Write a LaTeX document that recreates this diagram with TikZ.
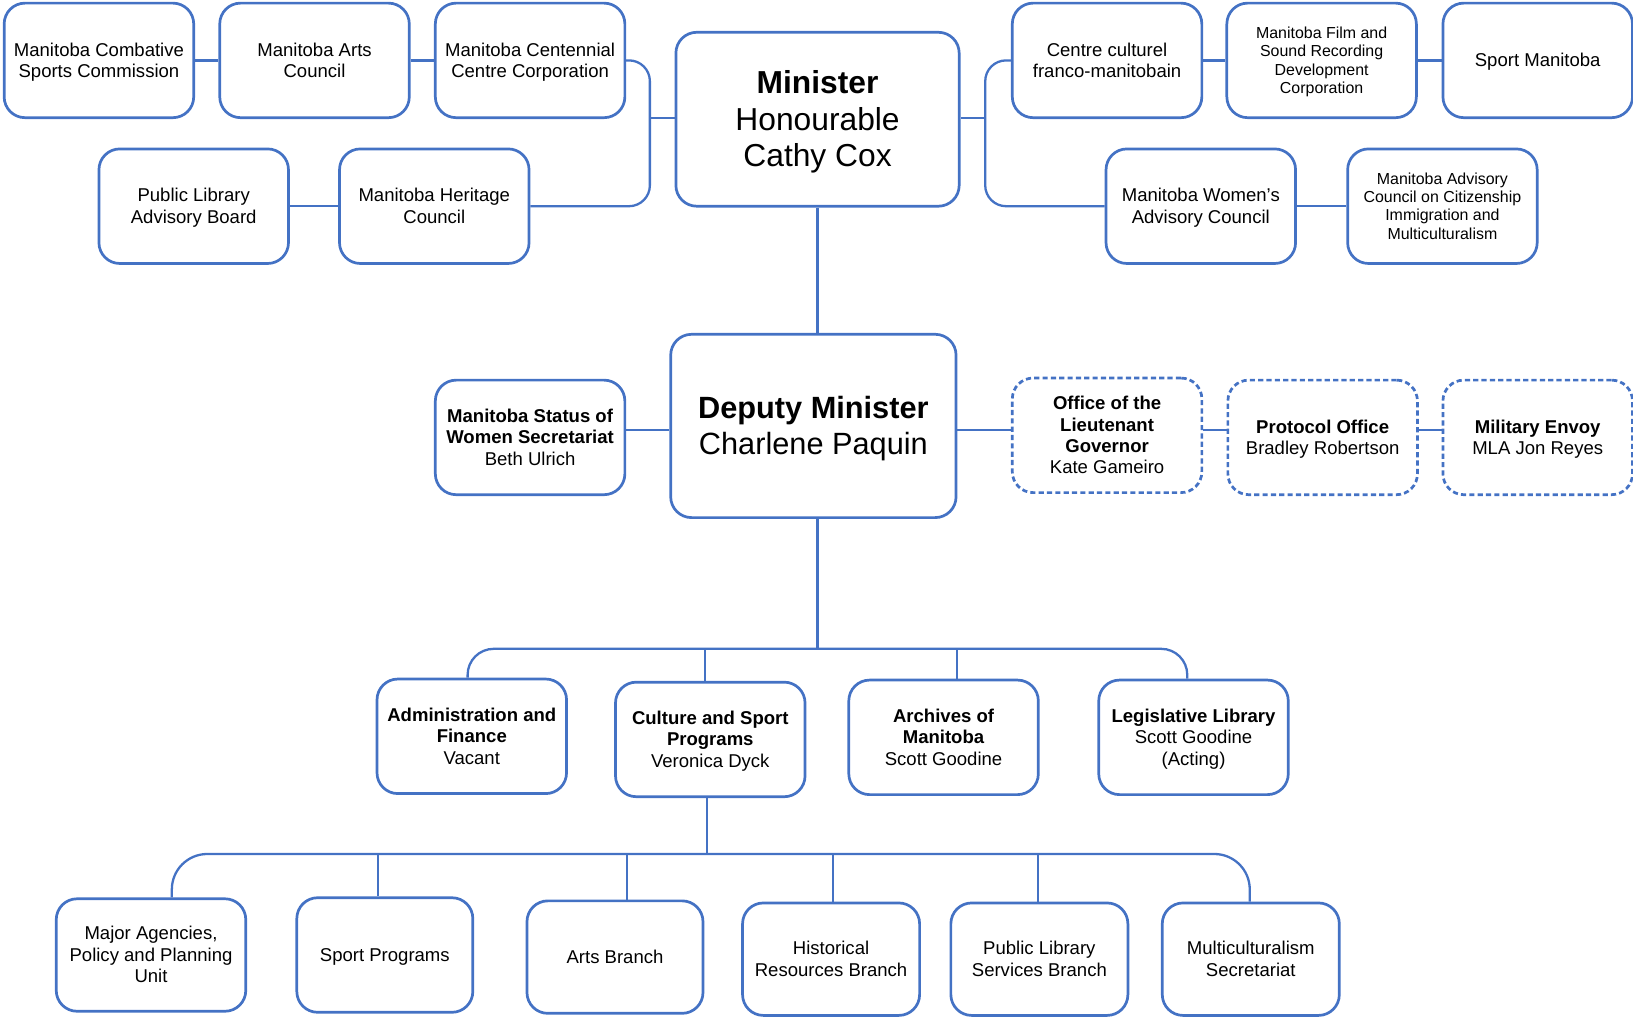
\documentclass[tikz,border=0pt]{standalone}
\usepackage{fontspec}
\setmainfont{Liberation Sans}
\usetikzlibrary{calc}
\definecolor{orgblue}{HTML}{4472C4}
% line-box strut: ascent and descent of the font's line box
\newcommand{\mystrut}{\rule[-0.212em]{0pt}{1.117em}}
\begin{document}
\begin{tikzpicture}[x=1pt,y=-1pt,
  box/.style={draw=orgblue, line width=2.6pt, rounded corners=20pt, align=center,
    inner sep=0pt, minimum width=182pt, minimum height=110pt,
    font=\fontsize{17.8}{20.6}\selectfont},
  dbox/.style={box, dash pattern=on 5pt off 3pt},
  small/.style={font=\fontsize{15.3}{17.7}\selectfont},
  conn/.style={draw=orgblue, line width=2.2pt},
  ]
\useasboundingbox (0,0) rectangle (1568,976);

% top left group
\node[box] (comb) at (95,58) {\mystrut Manitoba Combative\\Sports Commission\mystrut};
\node[box] (arts) at (302,58) {\mystrut Manitoba Arts\\Council\mystrut};
\node[box] (cent) at (509,58) {\mystrut Manitoba Centennial\\Centre Corporation\mystrut};
\node[box] (plab) at (186,198) {\mystrut Public Library\\Advisory Board\mystrut};
\node[box] (herit) at (417,198) {\mystrut Manitoba Heritage\\Council\mystrut};

% minister
\node[box, minimum width=272pt, minimum height=167pt, font=\fontsize{30.5}{35}\selectfont] (min) at (785,114.5) {\mystrut\textbf{Minister}\\Honourable\\Cathy Cox\mystrut};

% top right group
\node[box] (cc) at (1063,58) {\mystrut Centre culturel\\franco-manitobain\mystrut};
\node[box, small] (film) at (1269,58) {\mystrut Manitoba Film and\\Sound Recording\\Development\\Corporation\mystrut};
\node[box] (sportm) at (1476.5,58) {\mystrut Sport Manitoba};
\node[box] (women) at (1153,198) {\mystrut Manitoba Women’s\\Advisory Council\mystrut};
\node[box, small] (macc) at (1385,198) {\mystrut Manitoba Advisory\\Council on Citizenship\\Immigration and\\Multiculturalism\mystrut};

% deputy minister row
\node[box, minimum width=274pt, minimum height=176pt, font=\fontsize{29.5}{35}\selectfont] (dep) at (781,409) {\mystrut\textbf{Deputy Minister}\\Charlene Paquin\mystrut};
\node[box] (sow) at (509,420) {\mystrut\textbf{Manitoba Status of}\\\textbf{Women Secretariat}\\Beth Ulrich\mystrut};
\node[dbox] (lg) at (1063,418) {\mystrut\textbf{Office of the}\\\textbf{Lieutenant}\\\textbf{Governor}\\Kate Gameiro\mystrut};
\node[dbox] (prot) at (1270,420) {\mystrut\textbf{Protocol Office}\\Bradley Robertson\mystrut};
\node[dbox] (mil) at (1476.5,420) {\mystrut\textbf{Military Envoy}\\MLA Jon Reyes\mystrut};

% middle row
\node[box] (admin) at (453,707) {\mystrut\textbf{Administration and}\\\textbf{Finance}\\Vacant\mystrut};
\node[box] (cult) at (682,710) {\mystrut\textbf{Culture and Sport}\\\textbf{Programs}\\Veronica Dyck\mystrut};
\node[box] (arch) at (906,708) {\mystrut\textbf{Archives of}\\\textbf{Manitoba}\\Scott Goodine\mystrut};
\node[box] (leg) at (1146,708) {\mystrut\textbf{Legislative Library}\\Scott Goodine\\(Acting)\mystrut};

% bottom row
\node[box, minimum height=108pt] (major) at (145,917) {\mystrut Major Agencies,\\Policy and Planning\\Unit\mystrut};
\node[box, minimum width=169pt] (sportp) at (369.5,917) {\mystrut Sport Programs};
\node[box, minimum width=169pt, minimum height=108pt] (artsb) at (590.5,919) {\mystrut Arts Branch};
\node[box, minimum width=170pt, minimum height=108pt] (hist) at (798,921) {\mystrut Historical\\Resources Branch\mystrut};
\node[box, minimum width=170pt, minimum height=108pt] (pls) at (998,921) {\mystrut Public Library\\Services Branch\mystrut};
\node[box, minimum width=170pt, minimum height=108pt] (multi) at (1201,921) {\mystrut Multiculturalism\\Secretariat\mystrut};

% connectors: top left
\draw[conn] (comb) -- (arts);
\draw[conn] (arts) -- (cent);
\draw[conn] (plab) -- (herit);
\coordinate (lb) at (624,113);
\draw[conn, rounded corners=20pt] (cent.east) -| (lb) |- (herit.east);
\draw[conn] (lb) -- (lb -| min.west);

% connectors: top right
\coordinate (rb) at (946,113);
\draw[conn, rounded corners=20pt] (cc.west) -| (rb) |- (women.west);
\draw[conn] (rb) -- (rb -| min.east);
\draw[conn] (cc) -- (film);
\draw[conn] (film) -- (sportm);
\draw[conn] (women) -- (macc);

% minister to deputy
\draw[conn] (min.south) -- (min.south |- dep.north);

% deputy row
\coordinate (dy) at (0,413);
\draw[conn] (sow.east |- dy) -- (dep.west |- dy);
\draw[conn] (dep.east |- dy) -- (lg.west |- dy);
\draw[conn] (lg.east |- dy) -- (prot.west |- dy);
\draw[conn] (prot.east |- dy) -- (mil.west |- dy);

% middle bus
\coordinate (b1) at (785,623);
\draw[conn] (b1 |- dep.south) -- (b1);
\coordinate (a1) at ($(admin.north)+(-4,0)$);
\coordinate (l1) at ($(leg.north)+(-6,0)$);
\draw[conn, rounded corners=25pt] (a1) |- (b1) -| (l1);
\coordinate (c1) at ($(cult.north)+(-5,0)$);
\draw[conn] (c1) -- (c1 |- b1);
\coordinate (r1) at ($(arch.north)+(13,0)$);
\draw[conn] (r1) -- (r1 |- b1);

% bottom bus
\coordinate (b2) at (679,820);
\draw[conn] (cult.south -| b2) -- (b2);
\coordinate (m1) at ($(major.north)+(20,0)$);
\coordinate (u1) at ($(multi.north)+(-1,0)$);
\draw[conn, rounded corners=34pt] (m1) |- (b2) -| (u1);
\coordinate (s1) at ($(sportp.north)+(-6.5,0)$);
\draw[conn] (s1) -- (s1 |- b2);
\coordinate (s2) at ($(artsb.north)+(11.5,0)$);
\draw[conn] (s2) -- (s2 |- b2);
\coordinate (s3) at ($(hist.north)+(2,0)$);
\draw[conn] (s3) -- (s3 |- b2);
\coordinate (s4) at ($(pls.north)+(-1,0)$);
\draw[conn] (s4) -- (s4 |- b2);
\end{tikzpicture}
\end{document}
